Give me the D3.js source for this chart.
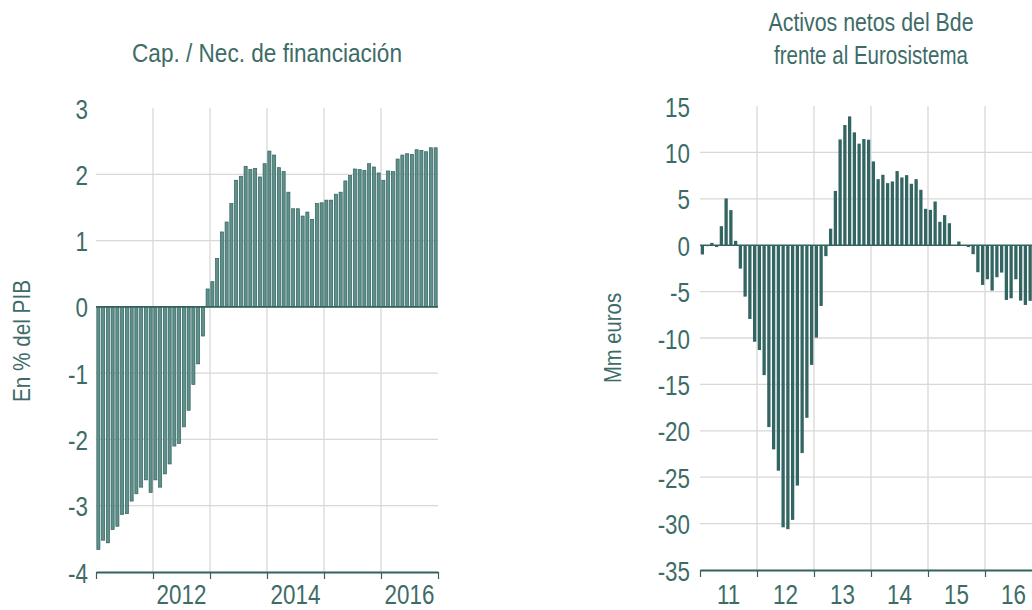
<!DOCTYPE html>
<html>
<head>
<meta charset="utf-8">
<script src="https://cdn.jsdelivr.net/npm/d3@7"></script>
<style>
  body { margin: 0; background: #fff; }
  svg { display: block; }
  text { font-family: "Liberation Sans", Arial, sans-serif; fill: #3d6c68; }
</style>
</head>
<body>
<script>
// monthly data, starting Jan 2011
const capNec = [
  -3.66, -3.52, -3.56, -3.36, -3.31, -3.13, -3.12, -2.93, -2.82, -2.72, -2.61, -2.80,
  -2.61, -2.72, -2.52, -2.37, -2.10, -2.06, -1.81, -1.56, -1.17, -0.86, -0.44, 0.27,
  0.38, 0.73, 1.13, 1.28, 1.56, 1.91, 1.97, 2.12, 2.07, 2.09, 1.96, 2.16,
  2.35, 2.29, 2.10, 2.04, 1.73, 1.48, 1.48, 1.37, 1.43, 1.32, 1.56, 1.57,
  1.61, 1.61, 1.70, 1.73, 1.90, 1.98, 2.08, 2.07, 2.06, 2.16, 2.11, 2.02,
  1.91, 2.05, 2.04, 2.23, 2.29, 2.31, 2.30, 2.37, 2.36, 2.34, 2.40, 2.40
];
const activos = [
  -1.0, -0.1, 0.25, -0.2, 2.05, 5.04, 3.78, 0.47, -2.52, -5.54, -7.95, -10.4,
  -11.3, -14.0, -19.6, -22.0, -24.3, -30.4, -30.6, -29.6, -25.9, -22.4, -18.6, -12.9,
  -9.96, -6.55, -1.18, 1.78, 5.85, 11.4, 12.95, 13.88, 12.16, 10.94, 11.44, 11.37,
  9.03, 7.12, 7.59, 6.69, 6.87, 7.99, 7.30, 7.55, 6.62, 7.12, 5.97, 3.92,
  3.81, 4.71, 2.52, 3.24, 2.37, -0.07, 0.40, -0.04, -0.2, -0.97, -2.91, -4.28,
  -3.67, -4.89, -3.45, -2.95, -5.90, -5.72, -3.67, -5.97, -6.44, -6.0
];
const startYear = 2011;
const leftYTicks = [-4, -3, -2, -1, 0, 1, 2, 3];
const leftYears = ["2012", "2014", "2016"];
const rightYTicks = [-35, -30, -25, -20, -15, -10, -5, 0, 5, 10, 15];
const rightYears = ["11", "12", "13", "14", "15", "16"];

const W = 1032, H = 610;
const teal = "#3d6c68", axisCol = "#33625f", grid = "#d8d8d8";
const narrow = 0.8; // squeeze Liberation Sans to look like a narrow face

const svg = d3.select("body").append("svg").attr("width", W).attr("height", H);

function panel(cfg) {
  const g = svg.append("g");
  const x = d3.scaleLinear().domain([startYear, startYear + 6]).range([cfg.x0, cfg.x0 + 342]);
  const y = d3.scaleLinear().domain(cfg.yDomain).range([cfg.yBottom, cfg.yTop]);
  const bounds = d3.range(startYear, startYear + 7);

  // horizontal grid
  g.append("g").selectAll("line")
    .data(cfg.yTicks.filter(v => v !== 0 && v !== cfg.yDomain[0] && v !== cfg.yDomain[1]))
    .enter().append("line")
    .attr("x1", x.range()[0]).attr("x2", x.range()[1])
    .attr("y1", d => y(d)).attr("y2", d => y(d))
    .attr("stroke", grid).attr("stroke-width", 1.3);

  // vertical grid at inner year boundaries
  g.append("g").selectAll("line")
    .data(bounds.slice(1, -1))
    .enter().append("line")
    .attr("x1", d => x(d)).attr("x2", d => x(d))
    .attr("y1", y(cfg.yDomain[1])).attr("y2", y(cfg.yDomain[0]))
    .attr("stroke", grid).attr("stroke-width", 1.3);

  // bars
  const bw = cfg.barW;
  g.append("g").selectAll("rect")
    .data(cfg.values)
    .enter().append("rect")
    .attr("x", (d, i) => x(startYear + (i + 0.5) / 12) - bw / 2)
    .attr("width", bw)
    .attr("y", d => y(Math.max(0, d)))
    .attr("height", d => Math.abs(y(d) - y(0)))
    .attr("fill", cfg.barFill)
    .attr("stroke", cfg.barStroke)
    .attr("stroke-width", cfg.barStrokeW);

  // zero line
  g.append("line")
    .attr("x1", x.range()[0]).attr("x2", x.range()[1])
    .attr("y1", y(0)).attr("y2", y(0))
    .attr("stroke", axisCol).attr("stroke-width", 1.6);

  // bottom axis with ticks at year boundaries
  const xAxis = d3.axisBottom(x).tickValues(bounds).tickFormat("").tickSize(7).tickSizeOuter(0);
  const ax = g.append("g").attr("transform", `translate(0,${y(cfg.yDomain[0])})`).call(xAxis);
  ax.select(".domain").attr("stroke", axisCol).attr("stroke-width", 2.2);
  ax.selectAll(".tick line").attr("stroke", axisCol).attr("stroke-width", 1.2);

  // year labels centred in their span
  g.append("g").selectAll("text")
    .data(cfg.years)
    .enter().append("text")
    .attr("transform", d => `translate(${x(cfg.yearOf(d) + 0.5)},604) scale(${narrow},1)`)
    .attr("text-anchor", "middle")
    .attr("font-size", 28)
    .text(d => d);

  // y tick labels
  const yAxis = d3.axisLeft(y).tickValues(cfg.yTicks).tickFormat(d => String(d)).tickSize(0).tickPadding(0);
  const ay = g.append("g").attr("transform", `translate(${cfg.labelX},0)`).call(yAxis);
  ay.select(".domain").remove();
  ay.attr("font-family", null).attr("font-size", null);
  ay.selectAll(".tick text")
    .attr("x", 0)
    .attr("font-size", 28)
    .attr("fill", teal)
    .attr("dy", "0.36em")
    .attr("transform", `scale(${narrow},1)`);

  // axis title
  g.append("text")
    .attr("transform", `translate(${cfg.yTitleX},${cfg.yTitleY}) rotate(-90)`)
    .attr("text-anchor", "middle")
    .attr("font-size", 24)
    .attr("textLength", cfg.yTitleLen)
    .attr("lengthAdjust", "spacingAndGlyphs")
    .text(cfg.yTitle);

  // chart title
  g.append("g").selectAll("text")
    .data(cfg.title)
    .enter().append("text")
    .attr("x", cfg.titleX)
    .attr("y", (d, i) => cfg.titleY + i * 33)
    .attr("text-anchor", "middle")
    .attr("font-size", 25)
    .attr("textLength", (d, i) => cfg.titleLen[i])
    .attr("lengthAdjust", "spacingAndGlyphs")
    .text(d => d);
}

panel({
  x0: 96, yDomain: [-4, 3], yBottom: 572, yTop: 108,
  values: capNec, yTicks: leftYTicks, years: leftYears,
  yearOf: d => +d,
  barW: 3.1, barFill: "#5f908a", barStroke: "#2f625e", barStrokeW: 0.7,
  labelX: 88, yTitle: "En % del PIB", yTitleX: 30, yTitleY: 341, yTitleLen: 122,
  title: ["Cap. / Nec. de financiación"], titleLen: [270], titleX: 267, titleY: 62
});

panel({
  x0: 700, yDomain: [-35, 15], yBottom: 570, yTop: 106,
  values: activos, yTicks: rightYTicks, years: rightYears,
  yearOf: d => 2000 + (+d),
  barW: 3.3, barFill: "#336662", barStroke: "none", barStrokeW: 0,
  labelX: 690, yTitle: "Mm euros", yTitleX: 621, yTitleY: 338, yTitleLen: 90,
  title: ["Activos netos del Bde", "frente al Eurosistema"], titleLen: [205, 194], titleX: 871, titleY: 31
});
</script>
</body>
</html>
